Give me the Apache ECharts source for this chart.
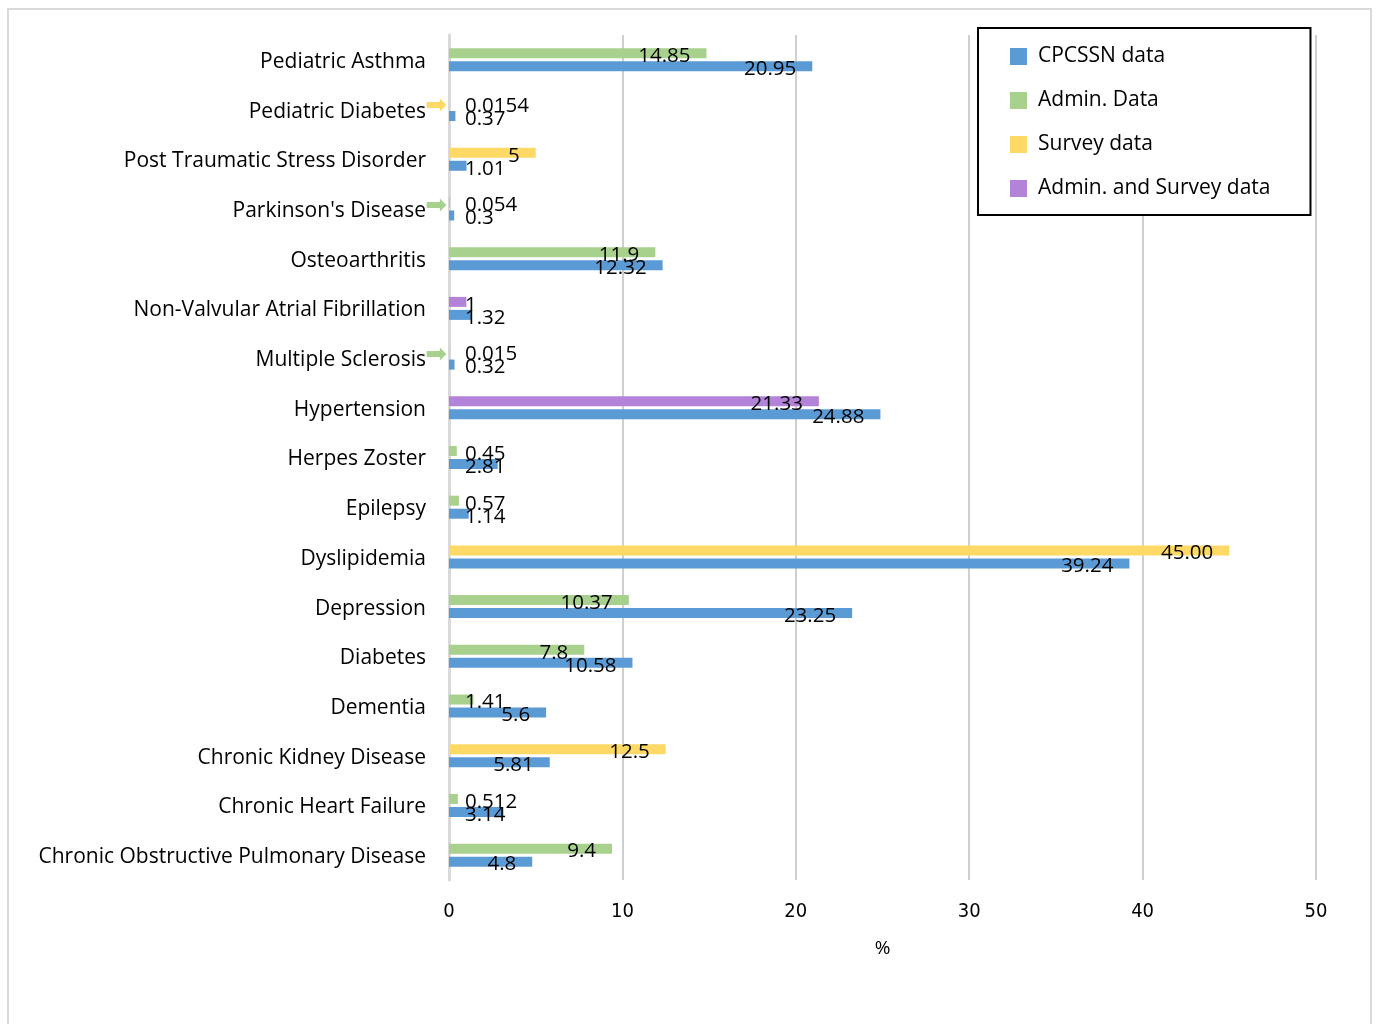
<!DOCTYPE html>
<html>
<head>
<meta charset="utf-8">
<script src="https://cdn.jsdelivr.net/npm/echarts@6/dist/echarts.min.js"></script>
<style>
  body { margin: 0; background: #fff; }
  #frame { position: absolute; left: 7px; top: 8px; width: 1361px; height: 1030px; border: 2px solid #d9d9d9; }
  #chart { position: absolute; left: 0; top: 0; width: 1377px; height: 1024px; }
</style>
</head>
<body>
<div id="frame"></div>
<div id="chart"></div>
<script>
// bottom to top, as the y axis draws them
const categories = [
  'Chronic Obstructive Pulmonary Disease', 'Chronic Heart Failure', 'Chronic Kidney Disease',
  'Dementia', 'Diabetes', 'Depression', 'Dyslipidemia', 'Epilepsy', 'Herpes Zoster',
  'Hypertension', 'Multiple Sclerosis', 'Non-Valvular Atrial Fibrillation', 'Osteoarthritis',
  "Parkinson's Disease", 'Post Traumatic Stress Disorder', 'Pediatric Diabetes', 'Pediatric Asthma'
];
const cpcssn      = [4.8, 3.14, 5.81, 5.6, 10.58, 23.25, 39.24, 1.14, 2.81, 24.88, 0.32, 1.32, 12.32, 0.3, 1.01, 0.37, 20.95];
const admin       = [9.4, 0.512, null, 1.41, 7.8, 10.37, null, 0.57, 0.45, null, 0.015, null, 11.9, 0.054, null, null, 14.85];
const survey      = [null, null, 12.5, null, null, null, '45.00', null, null, null, null, null, null, null, 5, 0.0154, null];
const adminSurvey = [null, null, null, null, null, null, null, null, null, 21.33, null, 1, null, null, null, null, null];
const xTicks = [0, 10, 20, 30, 40, 50];

// small arrows next to labels whose bar is too thin to see
const arrowFor = {
  'Pediatric Diabetes': 'survey',
  "Parkinson's Disease": 'admin',
  'Multiple Sclerosis': 'admin'
};

const colors = {cpcssn: '#5b9bd5', admin: '#a9d18e', survey: '#ffd966', adminSurvey: '#b283d8'};
const font = '"Open Sans", sans-serif';

function items(arr) {
  return arr.map(v => {
    if (v === null) return '-';
    const small = Number(v) < 4;
    return {
      value: v,
      label: small
        ? {position: [16, 5], align: 'left', verticalAlign: 'middle'}
        : {position: 'insideRight', distance: 16}
    };
  });
}

const label = {
  show: true,
  color: '#000',
  fontFamily: font,
  fontSize: 20.5,
  offset: [0, 3],
  formatter: p => String(p.data.value)
};

function bar(name, key, arr, stack) {
  return {
    name: name,
    type: 'bar',
    stack: stack,
    barWidth: 10,
    barGap: '30%',
    itemStyle: {color: colors[key]},
    label: label,
    data: items(arr)
  };
}

function arrowStyle(c) {
  return {width: 21, align: 'right', color: c, fontSize: 26, fontFamily: '"DejaVu Sans"', padding: [0, 0, 10, 0]};
}

const chart = echarts.init(document.getElementById('chart'));
chart.setOption({
  animation: false,
  grid: {left: 449, right: 61, top: 35, bottom: 144},
  legend: {
    data: ['CPCSSN data', 'Admin. Data', 'Survey data', 'Admin. and Survey data'],
    orient: 'vertical',
    left: 978,
    top: 28,
    padding: [18, 40, 16, 32],
    itemWidth: 17,
    itemHeight: 17,
    itemGap: 23,
    icon: 'rect',
    backgroundColor: '#fff',
    borderColor: '#000',
    borderWidth: 2,
    textStyle: {fontFamily: font, fontSize: 21, color: '#000', lineHeight: 21, padding: [0, 0, 0, 6]}
  },
  xAxis: {
    type: 'value',
    min: 0,
    max: 50,
    interval: 10,
    name: '%',
    nameLocation: 'middle',
    nameGap: 59,
    nameTextStyle: {fontFamily: font, fontSize: 19, color: '#000'},
    axisLine: {show: false},
    axisTick: {show: false},
    axisLabel: {
      margin: 22, fontSize: 20, color: '#000',
      fontFamily: '"Liberation Sans Narrow", "DejaVu Sans Condensed", "Open Sans", sans-serif',
      formatter: v => xTicks.includes(v) ? String(v) : ''
    },
    splitLine: {lineStyle: {color: '#cfcfcf', width: 2}}
  },
  yAxis: {
    type: 'category',
    data: categories,
    axisLine: {lineStyle: {color: '#d9d9d9', width: 3}},
    axisTick: {show: false},
    axisLabel: {
      margin: 2,
      padding: [4, 0, 0, 0],
      formatter: name => arrowFor[name]
        ? name + '{' + arrowFor[name] + '|➡}'
        : name + '{sp| }',
      color: '#000',
      fontFamily: font,
      fontSize: 21,
      rich: {
        sp: {width: 21, fontSize: 21},
        admin: arrowStyle(colors.admin),
        survey: arrowStyle(colors.survey)
      }
    }
  },
  // comparison bars first so they sit above the CPCSSN bar in each row
  series: [
    bar('Admin. Data', 'admin', admin, 'cmp'),
    bar('Survey data', 'survey', survey, 'cmp'),
    bar('Admin. and Survey data', 'adminSurvey', adminSurvey, 'cmp'),
    bar('CPCSSN data', 'cpcssn', cpcssn)
  ]
});
</script>
</body>
</html>
